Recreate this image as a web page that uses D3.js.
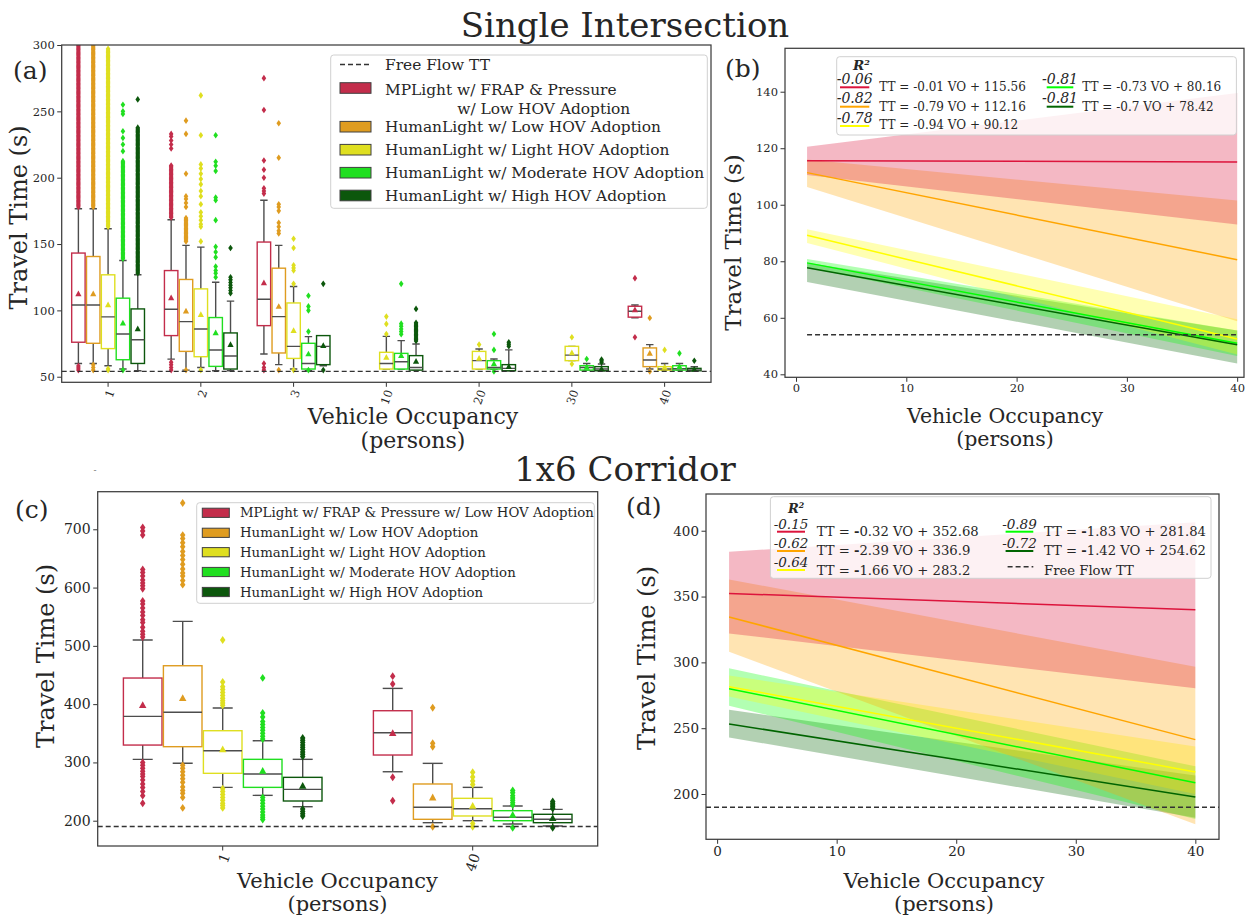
<!DOCTYPE html>
<html>
<head>
<meta charset="utf-8">
<script src="https://cdn.jsdelivr.net/npm/d3@7"></script>
<style>
  body { margin: 0; background: #fff; }
  text { font-family: "DejaVu Serif", serif; fill: #262626; }
</style>
</head>
<body>
<svg id="fig" width="1259" height="918"></svg>
<script>
//-- Data --//
var seriesNames = ["MPLight w/ FRAP & Pressure w/ Low HOV Adoption",
                   "HumanLight w/ Low HOV Adoption",
                   "HumanLight w/ Light HOV Adoption",
                   "HumanLight w/ Moderate HOV Adoption",
                   "HumanLight w/ High HOV Adoption"];
var boxColors = ["#c32d4b", "#df9c20", "#dfdf20", "#20df20", "#0c570c"];
var lineColors = ["crimson", "orange", "yellow", "lime", "darkgreen"];

// (a) single intersection, box stats: [whislo, q1, median, q3, whishi, mean]
var voA = ["1", "2", "3", "10", "20", "30", "40"];
var statsA = [
  [[60, 76, 104.1, 143.2, 176.6, 112.4], [63.3, 81, 100.9, 130, 168.3, 109.4], [67.1, 88.5, 108.4, 151.5, 183, 120.7], null, null, null, [94.5, 94.9, 99.4, 103.1, 104, 100.4]],
  [[60, 75.2, 104.1, 140.6, 176.6, 112.4], [55, 69.1, 91.5, 123.3, 149, 99.4], [59.1, 67.9, 95.3, 131.8, 149, 102.9], null, null, null, [55.8, 57.6, 62.6, 71.7, 74.2, 67.6]],
  [[58.3, 71.2, 95.1, 126.8, 161.5, 104.1], [57, 65.1, 86, 116.2, 147.7, 96.8], [55.8, 63.8, 72.9, 105.6, 118, 84.7], [55.8, 55.8, 60, 68.4, 80.4, 64.6], [55.8, 55.8, 62.1, 69.1, 70.9, 63.8], [62.1, 62.1, 66.3, 72.9, 72.9, 67.9], [55, 55, 55.8, 57.6, 60, 57]],
  [[55.8, 62.8, 82.2, 109.2, 137.6, 90.3], [54.5, 57.8, 70.1, 94.6, 121.2, 83], [54.5, 55.8, 60, 75.2, 80.2, 67.1], [55.8, 55.8, 61.3, 67.6, 77.2, 65.9], [55.8, 55.8, 57, 62.1, 63.4, 59.6], [55, 55, 57, 58.3, 60, 57], [55, 55, 56, 58.3, 60, 57.6]],
  [[54.5, 60, 77.9, 101.1, 126.8, 86], [54.5, 55.8, 65.6, 83, 107, 74.2], [58.3, 59.1, 72.9, 81, 81, 73.4], [55, 55, 57, 65.9, 74.7, 61.6], [54.5, 54.5, 56.3, 59.1, 70.2, 57.6], [54.5, 54.5, 55.8, 57.6, 59.6, 55.8], [54.5, 54.5, 55.2, 56.3, 57.5, 55.5]]
];
var fliersA = [
  [[55, 56.5, 58], [55, 57, 59, 61, 222, 225, 228, 231, 233], [55, 57, 60, 188, 190, 192, 200, 206, 213, 251, 275], [], [], [], [79.7, 124.3]],
  [[55, 57, 59], [55, 178, 181, 184, 186, 203, 233, 243], [55, 158, 160, 163, 166, 175, 178, 180, 215, 241], [], [], [], [54, 94.3]],
  [[55, 56], [55, 152, 163, 165, 168, 171, 174, 180, 186, 190, 195, 199, 203, 207, 210, 232, 262], [55, 120, 130, 132, 134, 147, 154], [82.2, 89.8, 95.3], [74.2], [59.6, 79.7], [70.2]],
  [[55, 220, 225, 230, 235, 248, 250, 255], [125, 128, 130, 133, 140, 144, 148, 168, 183, 185, 205, 209, 212, 232], [55, 84, 100, 103, 111], [82, 84, 86, 88, 90, 120], [54, 70.2, 82.2], [63.4], [67.6]],
  [[259], [113, 115, 117, 119, 121, 123, 125, 147], [55, 120], [101.1], [73, 74.5, 76], [61, 62, 63], [62]]
];
// dense outlier columns [from, to]
var runsA = [
  [[[178, 305]], [[170, 210]], [], [], [], [], []],
  [[[178, 305]], [[152, 170]], [], [], [], [], []],
  [[[163, 297.5]], [], [], [], [], [], []],
  [[[139, 213]], [], [], [], [], [], []],
  [[[128, 238]], [], [], [[77, 91]], [], [], []]
];
var freeFlowA = 54;

// (b) single intersection regressions
var slopeB = [-0.01, -0.79, -0.94, -0.73, -0.7];
var interceptB = [115.56, 112.16, 90.12, 80.16, 78.42];
var r2B = ["-0.06", "-0.82", "-0.78", "-0.81", "-0.81"];
// confidence band: [low at VO=1, high at VO=1, low at VO=40, high at VO=40]
var bandB = [[110.5, 120.5, 93, 139.5], [106.3, 116, 58.8, 101.5], [86.5, 91.3, 47, 59.5], [77.8, 80.8, 46.5, 55.5], [72.7, 79.5, 43.8, 55.5]];
var freeFlowB = 54;

// (c) corridor box stats
var voC = ["1", "40"];
var statsC = [
  [[305.3, 329.8, 379, 444.8, 510, 398], [284, 312.7, 350.9, 388.7, 427, 350]],
  [[298.5, 327, 386, 465.9, 542, 410], [196.6, 202.4, 223, 263, 298.4, 239.5]],
  [[257.2, 281.3, 320, 354.4, 393.3, 322], [200, 208.1, 220.6, 238.4, 257.2, 225.2]],
  [[243.5, 257.2, 280.1, 305.3, 337.2, 285.2], [194.3, 200, 205.8, 217.2, 225.2, 209.8]],
  [[224, 233.8, 253.8, 274.4, 305.3, 259.5], [190.9, 196.6, 202.4, 211, 219.5, 204.1]]
];
var fliersC = [
  [[515, 520, 525, 532, 540, 545, 552, 558, 565, 572, 577, 598, 603, 608, 613, 620, 626, 631, 690, 697, 703, 230, 243, 250, 257, 263, 270, 276, 280, 285, 290, 295, 300], [448, 434.5, 274.5, 234.3]],
  [[605, 612, 620, 625, 632, 640, 648, 655, 662, 670, 677, 684, 690, 745, 222, 240, 247, 252, 258, 266, 272, 278, 284, 290, 295], [393.8, 327, 333, 189.7]],
  [[398, 402, 406, 410, 415, 420, 425, 430, 438, 510, 222, 226, 230, 235, 240, 245, 250, 255], [262, 268, 275, 283, 189.7, 195]],
  [[340, 345, 350, 355, 360, 365, 370, 378, 385, 445, 202, 206, 210, 215, 220, 225, 230, 235, 240], [227, 231, 235, 239, 243, 248, 252, 188]],
  [[310, 314, 318, 322, 326, 330, 334, 338, 342, 208, 212, 216, 220], [221, 224, 227, 230, 233, 188]]
];
var runsC = [[[], []], [[], []], [[], []], [[], []], [[], []]];
var freeFlowC = 190;

// (d) corridor regressions
var slopeD = [-0.32, -2.39, -1.66, -1.83, -1.42];
var interceptD = [352.68, 336.9, 283.2, 281.84, 254.62];
var r2D = ["-0.15", "-0.62", "-0.64", "-0.89", "-0.72"];
var bandD = [[322, 384, 280.3, 406.5], [308, 363, 177, 296.7], [274, 290, 200, 236], [267, 295.5, 181, 221], [243, 264, 182, 214]];
var freeFlowD = 190;

var fitVO = [1, 40];

//-- SVG --//
var svg = d3.select("#fig");
var defs = svg.append("defs");

function makePanel(id, left, top, right, bottom) {
  var p = {id: id, w: right - left, h: bottom - top};
  defs.append("clipPath").attr("id", "clip-" + id)
    .append("rect").attr("width", p.w).attr("height", p.h);
  p.g = svg.append("g").attr("transform", "translate(" + left + "," + top + ")");
  return p;
}

function styleAxis(sel, fs) {
  sel.attr("font-family", "DejaVu Serif").attr("font-size", fs);
  sel.select(".domain").remove();
  sel.selectAll(".tick line").attr("stroke", "#333").attr("stroke-width", 1);
  sel.selectAll(".tick text").attr("fill", "#333");
}

function drawFrame(p) {
  p.g.append("rect").attr("width", p.w).attr("height", p.h)
    .attr("fill", "none").attr("stroke", "#3d3d3d").attr("stroke-width", 1.25);
}

var diamond = "M0,-3.3L2.3,0L0,3.3L-2.3,0Z";
var triangle = "M0,-3.4L3.1,2.3L-3.1,2.3Z";

function drawBoxes(p, x, y, groups, stats, fliers, runs, mk) {
  var bw = x.bandwidth(), w = bw * 0.8 / 5;
  var g = p.g.append("g").attr("clip-path", "url(#clip-" + p.id + ")");
  stats.forEach(function(series, s) {
    series.forEach(function(d, k) {
      if (!d) return;
      var cx = x(groups[k]) + bw * 0.1 + w * (s + 0.5);
      var col = boxColors[s];
      // whiskers
      [[d[0], d[1]], [d[3], d[4]]].forEach(function(seg) {
        g.append("line").attr("x1", cx).attr("x2", cx)
          .attr("y1", y(seg[0])).attr("y2", y(seg[1]))
          .attr("stroke", "#4d4d4d").attr("stroke-width", 1.4);
      });
      [d[0], d[4]].forEach(function(v) {
        g.append("line").attr("x1", cx - w / 4).attr("x2", cx + w / 4)
          .attr("y1", y(v)).attr("y2", y(v))
          .attr("stroke", "#4d4d4d").attr("stroke-width", 1.4);
      });
      // box
      g.append("rect")
        .attr("x", cx - w / 2 + 0.7).attr("width", w - 1.4)
        .attr("y", y(d[3])).attr("height", Math.max(0.5, y(d[1]) - y(d[3])))
        .attr("fill", "white").attr("stroke", col).attr("stroke-width", 1.4);
      g.append("line").attr("x1", cx - w / 2 + 0.7).attr("x2", cx + w / 2 - 0.7)
        .attr("y1", y(d[2])).attr("y2", y(d[2]))
        .attr("stroke", "#4d4d4d").attr("stroke-width", 1.4);
      // outliers
      var vals = fliers[s][k].slice();
      runs[s][k].forEach(function(r) {
        var step = Math.abs(y.invert(0) - y.invert(1.3));
        for (var v = r[0]; v <= r[1]; v += step) vals.push(v);
      });
      g.selectAll(null).data(vals).enter().append("path")
        .attr("d", diamond)
        .attr("transform", function(v) { return "translate(" + cx + "," + y(v) + ") scale(" + mk + ")"; })
        .attr("fill", col);
      // mean
      g.append("path").attr("d", triangle)
        .attr("transform", "translate(" + cx + "," + y(d[5]) + ") scale(" + mk + ")")
        .attr("fill", col);
    });
  });
}

function drawFits(p, x, y, slopes, intercepts, bands) {
  var g = p.g.append("g").attr("clip-path", "url(#clip-" + p.id + ")");
  for (var s = slopes.length - 1; s >= 0; s--) {
    var b = bands[s];
    var pts = [[fitVO[0], b[0]], [fitVO[1], b[2]], [fitVO[1], b[3]], [fitVO[0], b[1]]];
    g.append("path")
      .attr("d", "M" + pts.map(function(q) { return x(q[0]) + "," + y(q[1]); }).join("L") + "Z")
      .attr("fill", lineColors[s]).attr("fill-opacity", 0.3);
  }
  slopes.forEach(function(a, s) {
    g.append("line")
      .attr("x1", x(fitVO[0])).attr("x2", x(fitVO[1]))
      .attr("y1", y(a * fitVO[0] + intercepts[s])).attr("y2", y(a * fitVO[1] + intercepts[s]))
      .attr("stroke", lineColors[s]).attr("stroke-width", 1.5);
  });
}

function dashed(g, x1, x2, yy) {
  g.append("line").attr("x1", x1).attr("x2", x2).attr("y1", yy).attr("y2", yy)
    .attr("stroke", "#333").attr("stroke-width", 1.4).attr("stroke-dasharray", "5,3");
}

function rotateTicks(sel) {
  sel.selectAll(".tick text")
    .attr("text-anchor", "end").attr("x", 3).attr("y", 8).attr("dy", "0.35em")
    .attr("transform", "rotate(-70,3,8)");
}

function yLabel(x, y, size) {
  svg.append("text").attr("transform", "translate(" + x + "," + y + ") rotate(-90)")
    .attr("text-anchor", "middle").attr("font-size", size).text("Travel Time (s)");
}
function xLabel(cx, y, size) {
  svg.append("text").attr("x", cx).attr("y", y).attr("text-anchor", "middle")
    .attr("font-size", size).text("Vehicle Occupancy");
  svg.append("text").attr("x", cx).attr("y", y + size * 1.1).attr("text-anchor", "middle")
    .attr("font-size", size).text("(persons)");
}

//-- Titles --//
svg.append("text").attr("x", 625).attr("y", 36.5).attr("text-anchor", "middle")
  .attr("font-size", 34).text("Single Intersection");
svg.append("text").attr("x", 625).attr("y", 481).attr("text-anchor", "middle")
  .attr("font-size", 34).text("1x6 Corridor");
[["(a)", 13, 79], ["(b)", 725, 77], ["(c)", 15, 518], ["(d)", 626, 515]].forEach(function(t) {
  svg.append("text").attr("x", t[1]).attr("y", t[2]).attr("font-size", 25).text(t[0]);
});
svg.append("text").attr("x", 95).attr("y", 473).attr("text-anchor", "middle")
  .attr("font-size", 9).style("fill", "#777").text("-");

//-- Panel (a) --//
var pA = makePanel("a", 61.7, 45, 711, 382.3);
var xA = d3.scaleBand().domain(voA).range([0, pA.w]);
var yA = d3.scaleLinear().domain([45.8, 300]).range([pA.h, 0]);
pA.g.append("g").call(d3.axisLeft(yA).tickValues([50, 100, 150, 200, 250, 300]).tickSize(4.5).tickPadding(2.5))
  .call(styleAxis, 11.5);
pA.g.append("g").attr("transform", "translate(0," + pA.h + ")")
  .call(d3.axisBottom(xA).tickSize(4.5)).call(styleAxis, 11.5).call(rotateTicks);
drawBoxes(pA, xA, yA, voA, statsA, fliersA, runsA, 1);
dashed(pA.g, 0, pA.w, yA(freeFlowA));
drawFrame(pA);
yLabel(27, 217.5, 24);
xLabel(413, 424, 22);

// legend (a)
var lgA = svg.append("g");
lgA.append("rect").attr("x", 330.7).attr("y", 55).attr("width", 376.6).attr("height", 153.3)
  .attr("rx", 3).attr("fill", "white").attr("fill-opacity", 0.8).attr("stroke", "#d0d0d0");
dashed(lgA, 340, 371, 64.5);
lgA.append("text").attr("x", 385).attr("y", 69.8).attr("font-size", 15.4).text("Free Flow TT");
var rowsA = [88, 126.7, 149.7, 172.7, 195.5];
var labelsA = [["MPLight w/ FRAP & Pressure", "w/ Low HOV Adoption"]].concat(seriesNames.slice(1).map(function(n) { return [n]; }));
rowsA.forEach(function(cy, i) {
  lgA.append("rect").attr("x", 340).attr("y", cy - 5.3).attr("width", 31).attr("height", 10.6)
    .attr("fill", boxColors[i]).attr("stroke", "#404040").attr("stroke-width", 1);
  lgA.append("text").attr("x", 385).attr("y", (i === 0 ? 89.3 : cy) + 5.4).attr("font-size", 15.4).text(labelsA[i][0]);
  if (labelsA[i][1]) lgA.append("text").attr("x", 457.3).attr("y", 113.8).attr("font-size", 15.4).text(labelsA[i][1]);
});

//-- Panel (b) --//
var pB = makePanel("b", 785, 48.3, 1244, 377.3);
var xB = d3.scaleLinear().domain([-1, 40.62]).range([0, pB.w]);
var yB = d3.scaleLinear().domain([38.94, 155.36]).range([pB.h, 0]);
pB.g.append("g").call(d3.axisLeft(yB).tickValues([40, 60, 80, 100, 120, 140]).tickSize(4.5).tickPadding(2.5))
  .call(styleAxis, 11.5);
pB.g.append("g").attr("transform", "translate(0," + pB.h + ")")
  .call(d3.axisBottom(xB).tickValues([0, 10, 20, 30, 40]).tickSize(4.5).tickPadding(2.5)).call(styleAxis, 11.5);
drawFits(pB, xB, yB, slopeB, interceptB, bandB);
dashed(pB.g, xB(fitVO[0]), xB(fitVO[1]), yB(freeFlowB));
drawFrame(pB);
yLabel(741, 242.5, 23);
xLabel(1005, 423.3, 20.5);

function eqText(g, x, y, a, b, fs, boldMinus) {
  var t = g.append("text").attr("x", x).attr("y", y).attr("font-size", fs);
  var s = a < 0 ? "-" : "";
  t.append("tspan").text("TT = ");
  t.append("tspan").attr("font-weight", boldMinus ? "bold" : null).text(s);
  t.append("tspan").text(Math.abs(a) + " VO + " + b);
}
function r2Handle(g, x1, x2, yLine, yText, label, col, fs) {
  g.append("line").attr("x1", x1).attr("x2", x2).attr("y1", yLine).attr("y2", yLine)
    .attr("stroke", col).attr("stroke-width", 2);
  g.append("text").attr("x", (x1 + x2) / 2).attr("y", yText).attr("text-anchor", "middle")
    .attr("font-family", "Liberation Serif").attr("font-style", "italic").attr("font-size", fs).text(label);
}
function r2Title(g, x, y, fs) {
  var t = g.append("text").attr("x", x).attr("y", y).attr("font-family", "Liberation Serif")
    .attr("font-style", "italic").attr("font-weight", "bold").attr("font-size", fs);
  t.append("tspan").text("R");
  t.append("tspan").attr("font-size", fs * 0.6).attr("dy", -fs * 0.4).text("2");
}

var lgB = svg.append("g");
lgB.append("rect").attr("x", 836.7).attr("y", 56.7).attr("width", 399.7).attr("height", 78.3)
  .attr("rx", 3).attr("fill", "white").attr("fill-opacity", 0.8).attr("stroke", "#d0d0d0");
r2Title(lgB, 853, 70, 13.5);
var slotB = [[840, 869.3, 879.3, 0], [840, 869.3, 879.3, 1], [840, 869.3, 879.3, 2], [1046.7, 1073.3, 1082.3, 0], [1046.7, 1073.3, 1082.3, 1]];
var rowYB = [[87.3, 84.3, 91], [106.7, 103.3, 110.7], [126, 122.7, 129.3]];
slotB.forEach(function(sl, i) {
  var r = rowYB[sl[3]];
  r2Handle(lgB, sl[0], sl[1], r[0], r[1], r2B[i], lineColors[i], 14);
  eqText(lgB, sl[2], r[2], slopeB[i], interceptB[i], 12, false);
});

//-- Panel (c) --//
var pC = makePanel("c", 97.7, 491.7, 597.7, 846);
var xC = d3.scaleBand().domain(voC).range([0, pC.w]);
var yC = d3.scaleLinear().domain([156.6, 764.5]).range([pC.h, 0]);
pC.g.append("g").call(d3.axisLeft(yC).tickValues([200, 300, 400, 500, 600, 700]).tickSize(4.5).tickPadding(2.5))
  .call(styleAxis, 14);
pC.g.append("g").attr("transform", "translate(0," + pC.h + ")")
  .call(d3.axisBottom(xC).tickSize(4.5)).call(styleAxis, 14).call(rotateTicks);
drawBoxes(pC, xC, yC, voC, statsC, fliersC, runsC, 1.2);
dashed(pC.g, 0, pC.w, yC(freeFlowC));
drawFrame(pC);
yLabel(54, 656, 24);
xLabel(337.5, 888, 21);

var lgC = svg.append("g");
lgC.append("rect").attr("x", 196.7).attr("y", 502.7).attr("width", 397.6).attr("height", 100.6)
  .attr("rx", 3).attr("fill", "white").attr("fill-opacity", 0.8).attr("stroke", "#d0d0d0");
[512.8, 532.8, 552.2, 572, 592].forEach(function(cy, i) {
  lgC.append("rect").attr("x", 202.3).attr("y", cy - 4.6).attr("width", 27).attr("height", 9.2)
    .attr("fill", boxColors[i]).attr("stroke", "#404040").attr("stroke-width", 1);
  lgC.append("text").attr("x", 240).attr("y", cy + 4.6).attr("font-size", 13.3).text(seriesNames[i]);
});

//-- Panel (d) --//
var pD = makePanel("d", 706, 494, 1219, 839.3);
var xD = d3.scaleLinear().domain([-0.93, 41.98]).range([0, pD.w]);
var yD = d3.scaleLinear().domain([165.6, 427.9]).range([pD.h, 0]);
pD.g.append("g").call(d3.axisLeft(yD).tickValues([200, 250, 300, 350, 400]).tickSize(4.5).tickPadding(2.5))
  .call(styleAxis, 13.5);
pD.g.append("g").attr("transform", "translate(0," + pD.h + ")")
  .call(d3.axisBottom(xD).tickValues([0, 10, 20, 30, 40]).tickSize(4.5).tickPadding(2.5)).call(styleAxis, 13.5);
drawFits(pD, xD, yD, slopeD, interceptD, bandD);
dashed(pD.g, 0, pD.w, yD(freeFlowD));
drawFrame(pD);
yLabel(655, 658, 24);
xLabel(944, 888, 21);

var lgD = svg.append("g");
lgD.append("rect").attr("x", 770.4).attr("y", 496.7).attr("width", 440.6).attr("height", 81.6)
  .attr("rx", 3).attr("fill", "white").attr("fill-opacity", 0.8).attr("stroke", "#d0d0d0");
r2Title(lgD, 788, 513, 13);
var slotD = [[777, 805, 816.7, 0], [777, 805, 816.7, 1], [777, 805, 816.7, 2], [1005.6, 1033.3, 1044, 0], [1005.6, 1033.3, 1044, 1]];
var rowYD = [[531.7, 528.5, 535.7], [551, 547.8, 555.3], [570, 567, 574.8]];
slotD.forEach(function(sl, i) {
  var r = rowYD[sl[3]];
  r2Handle(lgD, sl[0], sl[1], r[0], r[1], r2D[i], lineColors[i], 13.5);
  eqText(lgD, sl[2], r[2], slopeD[i], interceptD[i], 13.2, true);
});
dashed(lgD, 1007.6, 1033.3, 566.7);
lgD.append("text").attr("x", 1044).attr("y", 574.8).attr("font-size", 13.2).text("Free Flow TT");
</script>
</body>
</html>
